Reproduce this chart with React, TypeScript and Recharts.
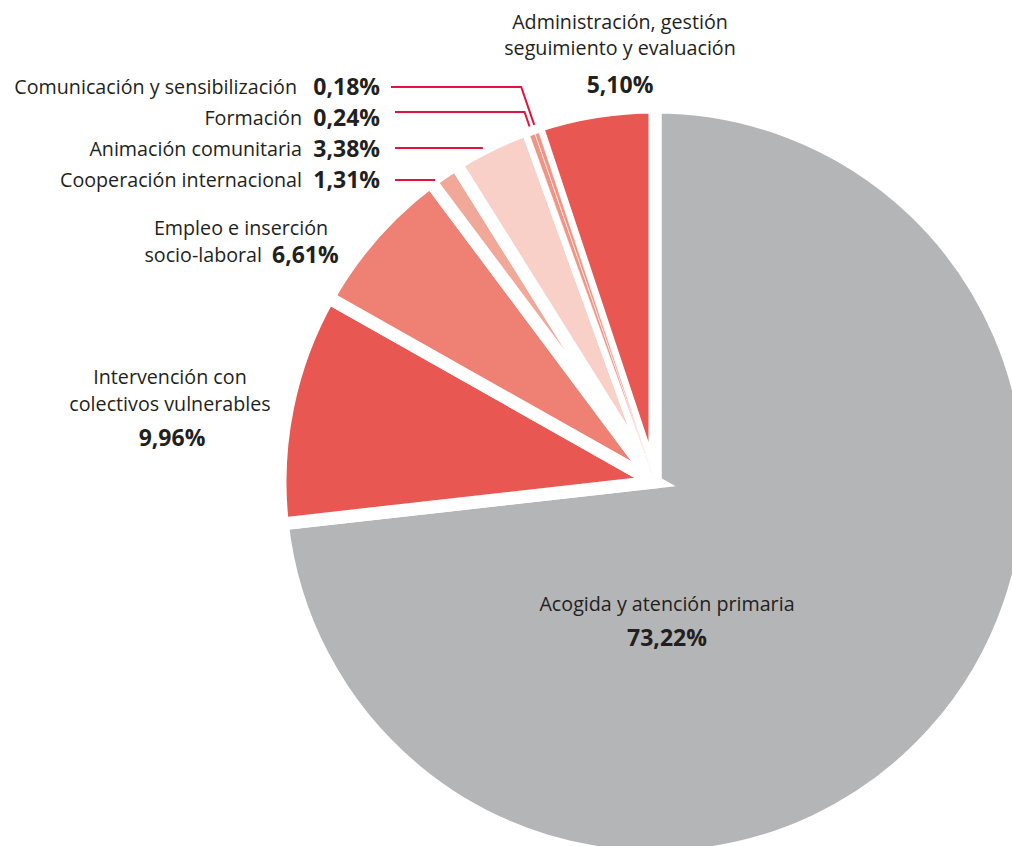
import { PieChart, Pie, Cell } from "recharts";

const categories = [
  "Acogida y atención primaria",
  "Intervención con colectivos vulnerables",
  "Empleo e inserción socio-laboral",
  "Cooperación internacional",
  "Animación comunitaria",
  "Formación",
  "Comunicación y sensibilización",
  "Administración, gestión seguimiento y evaluación",
];

const shares = [73.22, 9.96, 6.61, 1.31, 3.38, 0.24, 0.18, 5.1];

const shareLabels = ["73,22%", "9,96%", "6,61%", "1,31%", "3,38%", "0,24%", "0,18%", "5,10%"];

// how each category name is broken into lines on the picture
const nameLines = [
  ["Acogida y atención primaria"],
  ["Intervención con", "colectivos vulnerables"],
  ["Empleo e inserción", "socio-laboral"],
  ["Cooperación internacional"],
  ["Animación comunitaria"],
  ["Formación"],
  ["Comunicación y sensibilización"],
  ["Administración, gestión", "seguimiento y evaluación"],
];

const COLORS = ["#b4b5b7", "#e85752", "#ee8174", "#f2a898", "#f8d0c7", "#ef9586", "#ef9586", "#e85752"];
const TEXT = "#231f20";
const LEADER = "#e0143c";
const FONT = "'Open Sans', Lato, sans-serif";

type Anchor = "start" | "middle" | "end";
type Pos = { x: number; y: number; a: Anchor };
type Layout = {
  lines: Pos[];
  pct: Pos;
  leader?: { x0: number; y: number; bend?: number };
};

// label placement (page pixels)
const LAYOUT: Layout[] = [
  { lines: [{ x: 667, y: 611, a: "middle" }], pct: { x: 667, y: 646, a: "middle" } },
  {
    lines: [
      { x: 170, y: 384, a: "middle" },
      { x: 170, y: 411, a: "middle" },
    ],
    pct: { x: 172, y: 446, a: "middle" },
  },
  {
    lines: [
      { x: 241, y: 235, a: "middle" },
      { x: 262, y: 262, a: "end" },
    ],
    pct: { x: 272, y: 263, a: "start" },
  },
  { lines: [{ x: 302, y: 187, a: "end" }], pct: { x: 380, y: 188, a: "end" }, leader: { x0: 395, y: 180 } },
  { lines: [{ x: 302, y: 156, a: "end" }], pct: { x: 380, y: 157, a: "end" }, leader: { x0: 395, y: 148 } },
  { lines: [{ x: 302, y: 125, a: "end" }], pct: { x: 380, y: 126, a: "end" }, leader: { x0: 395, y: 112, bend: 5 } },
  { lines: [{ x: 297, y: 94, a: "end" }], pct: { x: 380, y: 95, a: "end" }, leader: { x0: 391, y: 87, bend: 13 } },
  {
    lines: [
      { x: 620, y: 29, a: "middle" },
      { x: 620, y: 55, a: "middle" },
    ],
    pct: { x: 620, y: 93, a: "middle" },
  },
];

const chartData = categories.map((name, i) => ({ name, value: shares[i] }));

const RAD = Math.PI / 180;
const polar = (cx: number, cy: number, r: number, angle: number) => ({
  x: cx + r * Math.cos(-angle * RAD),
  y: cy + r * Math.sin(-angle * RAD),
});

const renderLabel = (props: any) => {
  const { index, cx, cy, outerRadius, midAngle } = props;
  const lay = LAYOUT[index];
  let leader = null;
  if (lay.leader) {
    const { x0, y, bend } = lay.leader;
    if (bend !== undefined) {
      const end = polar(cx, cy, outerRadius + 2, midAngle);
      leader = (
        <polyline
          points={`${x0},${y} ${end.x - bend},${y} ${end.x},${end.y}`}
          fill="none"
          stroke={LEADER}
          strokeWidth={2}
        />
      );
    } else {
      const end = polar(cx, cy, outerRadius, midAngle);
      leader = <line x1={x0} y1={y} x2={end.x - 8} y2={y} stroke={LEADER} strokeWidth={2} />;
    }
  }
  return (
    <g>
      {nameLines[index].map((t, i) => (
        <text
          key={i}
          x={lay.lines[i].x}
          y={lay.lines[i].y}
          textAnchor={lay.lines[i].a}
          fontFamily={FONT}
          fontSize={19.7}
          fill={TEXT}
        >
          {t}
        </text>
      ))}
      <text
        x={lay.pct.x}
        y={lay.pct.y}
        textAnchor={lay.pct.a}
        fontFamily={FONT}
        fontSize={23}
        fontWeight={700}
        fill={TEXT}
      >
        {shareLabels[index]}
      </text>
      {leader}
    </g>
  );
};

export default function App() {
  return (
    <div
      style={{
        position: "fixed",
        left: 0,
        top: 0,
        width: 1012,
        height: 846,
        overflow: "hidden",
        background: "#fff",
      }}
    >
      <PieChart width={1012} height={846} margin={{ top: 0, right: 0, bottom: 0, left: 0 }}>
        <Pie
          data={chartData}
          dataKey="value"
          nameKey="name"
          cx={655}
          cy={482}
          outerRadius={375}
          startAngle={90}
          endAngle={-270}
          stroke="#ffffff"
          strokeWidth={13}
          label={renderLabel}
          labelLine={false}
          isAnimationActive={false}
        >
          {chartData.map((d, i) => (
            <Cell key={d.name} fill={COLORS[i]} />
          ))}
        </Pie>
        {/* the two thinnest slices vanish under the gaps; redraw them on top with a hairline */}
        <Pie
          data={chartData}
          dataKey="value"
          cx={655}
          cy={482}
          outerRadius={368}
          startAngle={90}
          endAngle={-270}
          legendType="none"
          isAnimationActive={false}
        >
          {chartData.map((d, i) =>
            d.value < 1 ? (
              <Cell key={d.name} fill={COLORS[i]} stroke="#ffffff" strokeWidth={0.6} />
            ) : (
              <Cell key={d.name} fill="none" stroke="none" />
            )
          )}
        </Pie>
      </PieChart>
    </div>
  );
}
